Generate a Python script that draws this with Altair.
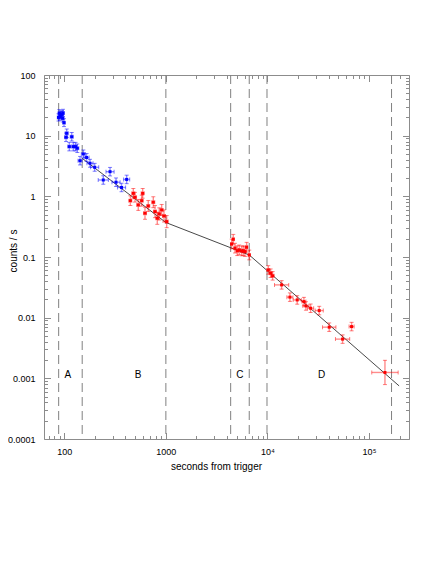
import altair as alt
import pandas as pd

FONT = "Liberation Sans"
GRAY = "#8c8c8c"

# ---- data ----
# early (blue) points: time [s], rate [counts/s], half-width errors in dex
early_t = [87.7, 89.3, 90.7, 92.2, 94.9, 96.4, 97.1, 99.3, 104, 105.6, 112, 118.3,
           122.6, 128.9, 134.3, 142.9, 154, 165.7, 179, 199, 242, 282, 323, 366, 411]
early_rate = [20.0, 23.4, 20.6, 21.9, 22.5, 19.3, 23.7, 16.4, 9.4, 10.96, 6.6, 9.6,
              6.6, 6.6, 6.2, 3.87, 5.0, 4.37, 3.51, 3.01, 1.86, 2.55, 1.71, 1.40, 1.90]
early_terr = [0.012, 0.012, 0.012, 0.012, 0.012, 0.012, 0.012, 0.012, 0.015, 0.015, 0.015, 0.015,
              0.015, 0.015, 0.015, 0.02, 0.02, 0.025, 0.03, 0.04, 0.05, 0.04, 0.04, 0.04, 0.03]
early_rerr = [0.06, 0.06, 0.06, 0.06, 0.06, 0.06, 0.06, 0.065, 0.07, 0.07, 0.07, 0.07,
              0.07, 0.07, 0.07, 0.07, 0.065, 0.065, 0.065, 0.065, 0.07, 0.07, 0.07, 0.07, 0.07]

# late (red) points
late_t = [447, 478, 497, 535, 578, 591, 623, 671, 752, 782, 823, 861, 909, 958, 1018,
          4446, 4608, 4790, 5048, 5279, 5572, 5778, 6010, 6242, 6624,
          10190, 10750, 11250, 13790, 16650, 19640, 22860, 23930, 26620, 32350,
          40590, 54940, 67400, 143600]
late_rate = [0.849, 1.12, 0.966, 0.722, 0.849, 1.12, 0.527, 0.695, 0.80, 0.56, 0.435, 0.513,
             0.597, 0.475, 0.383,
             0.164, 0.196, 0.140, 0.127, 0.131, 0.126, 0.127, 0.123, 0.145, 0.108,
             0.0612, 0.0541, 0.0489, 0.0347, 0.0218, 0.0196, 0.0184, 0.0156, 0.0143, 0.0131,
             0.00697, 0.00443, 0.00713, 0.00125]
late_terr = [0.015] * 15 + [0.01] * 10 + [0.015, 0.015, 0.015, 0.07, 0.03, 0.04, 0.02, 0.03,
                                          0.03, 0.04, 0.066, 0.07, 0.025, 0.13]
late_rerr = [0.08, 0.08, 0.08, 0.09, 0.09, 0.08, 0.1, 0.09, 0.09, 0.1, 0.1, 0.1, 0.09, 0.1, 0.1] \
    + [0.08] * 10 + [0.07] * 13 + [0.2]

# broken power-law model
model_t = [148, 1000, 6620, 198000]
model_rate = [4.3, 0.37, 0.108, 0.00075]

# segment boundaries and segment letters
break_t = [88, 150, 1000, 4345, 6620, 9900, 166700]
seg_names = ["A", "B", "C", "D"]
seg_t = [108, 534, 5360, 34100]
seg_rate = [0.00114, 0.00114, 0.00114, 0.00114]

# axis tick labels
x_major = [100, 1000, 10000, 100000]
x_labels = ["100", "1000", "10\u2074", "10\u2075"]
y_major = [0.0001, 0.001, 0.01, 0.1, 1, 10, 100]
y_labels = ["0.0001", "0.001", "0.01", "0.1", "1", "10", "100"]

X_DOMAIN = [63.1, 247700]
Y_DOMAIN = [0.0001, 100]
W, H = 365, 364

# ---- tables ----
rows = []
for grp, ts, rs, tes, res in [("early", early_t, early_rate, early_terr, early_rerr),
                              ("late", late_t, late_rate, late_terr, late_rerr)]:
    for t, r, te, re in zip(ts, rs, tes, res):
        rows.append(dict(grp=grp, t=t, r=r, t_lo=t / 10 ** te, t_hi=t * 10 ** te,
                         r_lo=r / 10 ** re, r_hi=r * 10 ** re))
pts = pd.DataFrame(rows)

vcaps = pd.concat([pts.assign(cx=pts.t, cy=pts.r_lo), pts.assign(cx=pts.t, cy=pts.r_hi)])[["grp", "cx", "cy"]]
hcaps = pd.concat([pts.assign(cx=pts.t_lo, cy=pts.r), pts.assign(cx=pts.t_hi, cy=pts.r)])[["grp", "cx", "cy"]]

model = pd.DataFrame({"t": model_t, "r": model_rate})
breaks = pd.DataFrame({"t": break_t})
segs = pd.DataFrame({"name": seg_names, "t": seg_t, "r": seg_rate})


def label_expr(values, labels):
    expr = "''"
    for i in range(len(values) - 1, -1, -1):
        thr = values[i] * 3.1622
        expr = f"datum.value < {thr} ? '{labels[i]}' : ({expr})"
    return expr


x_ticks = [m * 10 ** k for k in range(1, 6) for m in range(1, 10)
           if X_DOMAIN[0] <= m * 10 ** k <= X_DOMAIN[1]]
y_ticks = [m * 10.0 ** k for k in range(-4, 2) for m in range(1, 10)] + [100]

major_test = "abs(log(datum.value)/LN10 - round(log(datum.value)/LN10)) < 0.01"
tick_size = {"condition": {"test": major_test, "value": 6.5}, "value": 3.5}

xs = alt.Scale(type="log", domain=X_DOMAIN, nice=False)
ys = alt.Scale(type="log", domain=Y_DOMAIN, nice=False)
col = alt.Color("grp:N", scale=alt.Scale(domain=["early", "late"], range=["#0000ff", "#ff0000"]),
                legend=None)

ax_x_main = alt.Axis(orient="bottom", values=x_major, labelExpr=label_expr(x_major, x_labels),
                     ticks=False, domain=False, grid=False, labelPadding=8, labelFlush=False,
                     labelFont=FONT, labelFontSize=9, labelColor="black",
                     title="seconds from trigger", titleFont=FONT, titleFontSize=10,
                     titleFontWeight="normal", titleColor="black", titleX=172, titleY=30,
                     titleBaseline="alphabetic", titleAlign="center")
ax_y_main = alt.Axis(orient="left", values=y_major, labelExpr=label_expr(y_major, y_labels),
                     ticks=False, domain=False, grid=False, labelPadding=9, labelFlush=False,
                     labelFont=FONT, labelFontSize=9, labelColor="black",
                     title="counts / s", titleFont=FONT, titleFontSize=10,
                     titleFontWeight="normal", titleColor="black", titleX=-28, titleY=175.5,
                     titleAngle=270, titleBaseline="alphabetic", titleAlign="center")


def in_axis(orient, offset, values):
    return alt.Axis(orient=orient, offset=offset, values=values, labels=False, domain=False,
                    grid=False, ticks=True, tickSize=tick_size, tickColor=GRAY, tickWidth=1,
                    title=None)


yerr = alt.Chart(pts).mark_rule(strokeWidth=1.4, opacity=0.45, clip=True).encode(
    x=alt.X("t:Q", scale=xs, axis=ax_x_main),
    y=alt.Y("r_lo:Q", scale=ys, axis=ax_y_main),
    y2="r_hi:Q", color=col)

xerr = alt.Chart(pts).mark_rule(strokeWidth=1.4, opacity=0.45, clip=True).encode(
    x=alt.X("t_lo:Q", scale=xs, axis=in_axis("top", -H, x_ticks)),
    x2="t_hi:Q",
    y=alt.Y("r:Q", scale=ys, axis=in_axis("right", -W, y_ticks)),
    color=col)

vcap = alt.Chart(vcaps).mark_tick(orient="horizontal", size=4, thickness=1, opacity=0.5, clip=True).encode(
    x=alt.X("cx:Q", scale=xs, axis=in_axis("bottom", -H, x_ticks)),
    y=alt.Y("cy:Q", scale=ys, axis=in_axis("left", -W, y_ticks)),
    color=col)

hcap = alt.Chart(hcaps).mark_tick(orient="vertical", size=4, thickness=1, opacity=0.5, clip=True).encode(
    x=alt.X("cx:Q", scale=xs, axis=None),
    y=alt.Y("cy:Q", scale=ys, axis=None),
    color=col)

points = alt.Chart(pts).mark_square(size=9, opacity=1, filled=True).encode(
    x=alt.X("t:Q", scale=xs, axis=None),
    y=alt.Y("r:Q", scale=ys, axis=None),
    color=col)

line = alt.Chart(model).mark_line(color="#333333", strokeWidth=0.9, clip=True).encode(
    x=alt.X("t:Q", scale=xs, axis=None),
    y=alt.Y("r:Q", scale=ys, axis=None),
    order="t:Q")

dashes = alt.Chart(breaks).mark_rule(color="#808080", strokeWidth=1, strokeDash=[9, 5]).encode(
    x=alt.X("t:Q", scale=xs, axis=None))

letters = alt.Chart(segs).mark_text(font=FONT, fontSize=10, color="black",
                                     baseline="middle", align="center").encode(
    x=alt.X("t:Q", scale=xs, axis=None),
    y=alt.Y("r:Q", scale=ys, axis=None),
    text="name:N")

chart = alt.layer(dashes, line, yerr, xerr, vcap, hcap, points, letters).resolve_axis(
    x="independent", y="independent"
).properties(
    width=W, height=H,
    autosize=alt.AutoSizeParams(type="none"),
    padding={"left": 36, "top": 67, "right": 19, "bottom": 136},
    background="white",
).configure_view(stroke=GRAY, strokeWidth=1)

chart.save("out.html", embed_options={"renderer": "svg", "actions": False})
